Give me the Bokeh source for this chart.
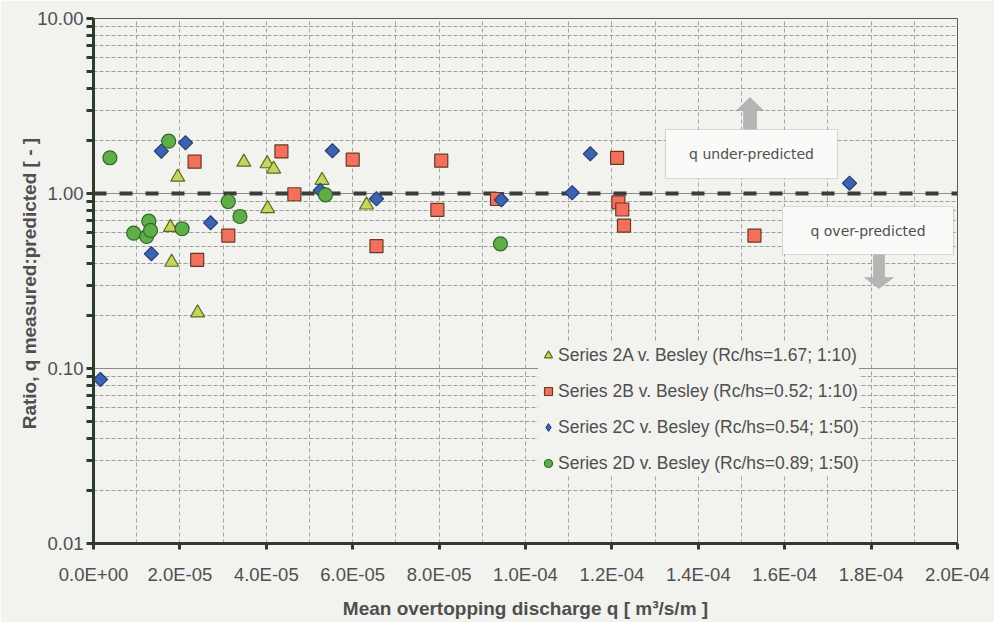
import numpy as np
from bokeh.plotting import figure
from bokeh.models import (Range1d, FixedTicker, CustomJSTickFormatter, Span, Legend,
                          LegendItem, BoxAnnotation, Label, PolyAnnotation)
from bokeh.embed import file_html
from bokeh.resources import INLINE

# ---------------- data ----------------
s2a_q = [1.95e-5, 3.48e-5, 4.02e-5, 4.17e-5, 5.29e-5, 4.03e-5, 6.32e-5, 1.78e-5, 1.81e-5, 2.41e-5]
s2a_r = [1.24, 1.51, 1.48, 1.38, 1.19, 0.82, 0.86, 0.64, 0.405, 0.208]

s2b_q = [2.34e-5, 4.35e-5, 6.00e-5, 4.65e-5, 3.12e-5, 2.40e-5, 6.55e-5, 8.05e-5, 7.96e-5,
         9.34e-5, 1.212e-4, 1.215e-4, 1.224e-4, 1.228e-4, 1.530e-4]
s2b_r = [1.52, 1.74, 1.56, 0.99, 0.575, 0.418, 0.50, 1.54, 0.807,
         0.93, 1.60, 0.89, 0.81, 0.656, 0.575]

s2c_q = [0.16e-5, 1.57e-5, 2.13e-5, 1.34e-5, 2.71e-5, 5.53e-5, 5.25e-5, 6.55e-5,
         9.44e-5, 1.108e-4, 1.150e-4, 1.750e-4]
s2c_r = [0.0865, 1.745, 1.95, 0.452, 0.68, 1.754, 1.04, 0.933,
         0.92, 1.01, 1.686, 1.145]

s2d_q = [0.38e-5, 1.74e-5, 1.28e-5, 0.93e-5, 1.23e-5, 1.32e-5, 2.05e-5, 3.12e-5,
         3.39e-5, 5.37e-5, 9.42e-5]
s2d_r = [1.60, 1.99, 0.695, 0.593, 0.568, 0.615, 0.629, 0.90,
         0.739, 0.983, 0.516]

series_labels = [
    "Series 2A v. Besley (Rc/hs=1.67; 1:10)",
    "Series 2B v. Besley (Rc/hs=0.52; 1:10)",
    "Series 2C v. Besley (Rc/hs=0.54; 1:50)",
    "Series 2D v. Besley (Rc/hs=0.89; 1:50)",
]

x_ticks = [0.0, 2e-5, 4e-5, 6e-5, 8e-5, 1e-4, 1.2e-4, 1.4e-4, 1.6e-4, 1.8e-4, 2e-4]
x_minor = [1e-5, 3e-5, 5e-5, 7e-5, 9e-5, 1.1e-4, 1.3e-4, 1.5e-4, 1.7e-4, 1.9e-4]
y_ticks = [0.01, 0.1, 1.0, 10.0]
y_minor = [m * d for d in [0.01, 0.1, 1.0] for m in [2, 3, 4, 5, 6, 7, 8, 9]]
ref_ratio = 1.0

# ---------------- style ----------------
BG = "#f2f2ef"
TXT = "#4f4f4f"
FONT = "Liberation Sans"
AX = "#2e3a2a"

FL, FR, FT, FB = 93, 957, 18, 543  # frame pixel box
W, H = 994, 622

p = figure(width=W, height=H, x_range=Range1d(0, 2e-4), y_range=Range1d(0.01, 10),
           y_axis_type="log", output_backend="svg", toolbar_location=None,
           min_border_left=FL, min_border_right=W - FR, min_border_top=FT,
           min_border_bottom=H - FB, background_fill_color=BG, border_fill_color=BG,
           outline_line_color="#5a5a5a", outline_line_width=1)

# axes
p.xaxis.ticker = FixedTicker(ticks=x_ticks, minor_ticks=x_minor)
p.yaxis.ticker = FixedTicker(ticks=y_ticks, minor_ticks=y_minor)
p.xaxis.formatter = CustomJSTickFormatter(code="""
if (Math.abs(tick) < 1e-12) return "0.0E+00";
var e = Math.floor(Math.log10(Math.abs(tick)) + 1e-9);
var ms = (tick / Math.pow(10, e)).toFixed(1);
if (ms == "10.0") { e += 1; ms = "1.0"; }
var ae = Math.abs(e);
return ms + "E" + (e < 0 ? "-" : "+") + (ae < 10 ? "0" + ae : "" + ae);
""")
p.yaxis.formatter = CustomJSTickFormatter(code="return tick.toFixed(2);")

for ax in (p.xaxis[0], p.yaxis[0]):
    ax.axis_line_color = AX
    ax.axis_line_width = 3
    ax.major_tick_line_color = AX
    ax.major_tick_line_width = 3
    ax.major_tick_in = 0
    ax.major_label_text_font = FONT
    ax.major_label_text_color = TXT
    ax.major_label_text_font_size = "18.5px"
    ax.axis_label_text_font = FONT
    ax.axis_label_text_font_style = "bold"
    ax.axis_label_text_color = TXT
    ax.axis_label_text_font_size = "19px"

p.xaxis.major_tick_out = 6
p.xaxis.minor_tick_line_color = None
p.xaxis.major_label_standoff = 14
p.xaxis.axis_label = "Mean overtopping discharge q [ m\u00b3/s/m ]"
p.xaxis.axis_label_standoff = 10

p.yaxis.major_tick_out = 7
p.yaxis.minor_tick_out = 7
p.yaxis.minor_tick_in = 0
p.yaxis.minor_tick_line_color = AX
p.yaxis.minor_tick_line_width = 3
p.yaxis.major_label_standoff = 3
p.yaxis.axis_label = "Ratio, q measured:predicted  [ - ]"
p.yaxis.axis_label_standoff = -6

# grids
p.xgrid.grid_line_color = "#a3a3a3"
p.xgrid.grid_line_dash = "4 3"
p.xgrid.grid_line_width = 1
p.xgrid.minor_grid_line_color = "#a3a3a3"
p.xgrid.minor_grid_line_dash = "4 3"
p.ygrid.grid_line_color = "#8a8a8a"
p.ygrid.grid_line_width = 1
p.ygrid.minor_grid_line_color = "#9d9d9d"
p.ygrid.minor_grid_line_dash = "4 2"

# reference line at ratio 1
span = Span(location=ref_ratio, dimension="width", line_color="#3b3b3b", line_width=4,
            line_dash="13 13", level="underlay")
p.add_layout(span)

# data
C_FILL, C_LINE = "#3c62b0", "#243f78"
ra = p.scatter(s2a_q, s2a_r, marker="triangle", size=14, fill_color="#c6d55e",
               line_color="#5b6a22", line_width=1.2)
rb = p.scatter(s2b_q, s2b_r, marker="square", size=13, fill_color="#f4705e",
               line_color="#6a3a20", line_width=1.2)
# key glyph for series 2C (a diamond, fully covered by the rotated squares drawn on top)
rc_key = p.scatter(s2c_q, s2c_r, marker="diamond", size=9, fill_color=C_FILL,
                   line_color=C_LINE, line_width=1)
rc = p.scatter(s2c_q, s2c_r, marker="square", angle=np.pi / 4, size=10, fill_color=C_FILL,
               line_color=C_LINE, line_width=1.2)
rd = p.scatter(s2d_q, s2d_r, marker="circle", size=14, fill_color="#5fae4a",
               line_color="#2f6a25", line_width=1.2)

legend = Legend(items=[LegendItem(label=series_labels[i], renderers=[r])
                       for i, r in enumerate([ra, rb, rc_key, rd])],
                location=(445, 68), padding=14, margin=0, spacing=12,
                glyph_width=20, glyph_height=24, label_height=20, label_standoff=0,
                label_text_font=FONT, label_text_font_size="17.5px",
                label_text_color=TXT, background_fill_color=BG,
                background_fill_alpha=1.0, border_line_color=None)
p.add_layout(legend)


# annotation boxes (decorative, placed in the frame by pixel position)
def dx(px):
    return (px - FL) / (FR - FL) * 2e-4


def dy(py):
    return 10 ** ((FB - py) / (FB - FT) * 3 - 2)


ARW_FILL = "#b5b5b5"
ARW_LINE = "#858585"
up = [(743, 129), (743, 110), (736, 110), (749.5, 97), (763, 110), (756, 110), (756, 129)]
dn = [(873, 254), (873, 277), (864, 277), (878.5, 288), (893, 277), (884, 277), (884, 254)]
for poly in (up, dn):
    p.add_layout(PolyAnnotation(xs=[dx(a) for a, b in poly], ys=[dy(b) for a, b in poly],
                                fill_color=ARW_FILL, fill_alpha=1, line_color=ARW_LINE,
                                line_width=1))

boxes = [((665, 837, 129, 178), "q under-predicted"),
         ((782, 953, 206, 254), "q over-predicted")]
for (l, r, t, b), txt in boxes:
    p.add_layout(BoxAnnotation(left=dx(l), right=dx(r), top=dy(t), bottom=dy(b),
                               fill_color="#fafaf8", fill_alpha=1, line_color="#8c8c8c",
                               line_width=1.2))
    p.add_layout(Label(x=dx((l + r) / 2), y=dy((t + b) / 2), text=txt, text_align="center",
                       text_baseline="middle", text_font="DejaVu Sans",
                       text_font_size="14px", text_color=TXT))

open("out.html", "w").write(file_html(p, INLINE))
